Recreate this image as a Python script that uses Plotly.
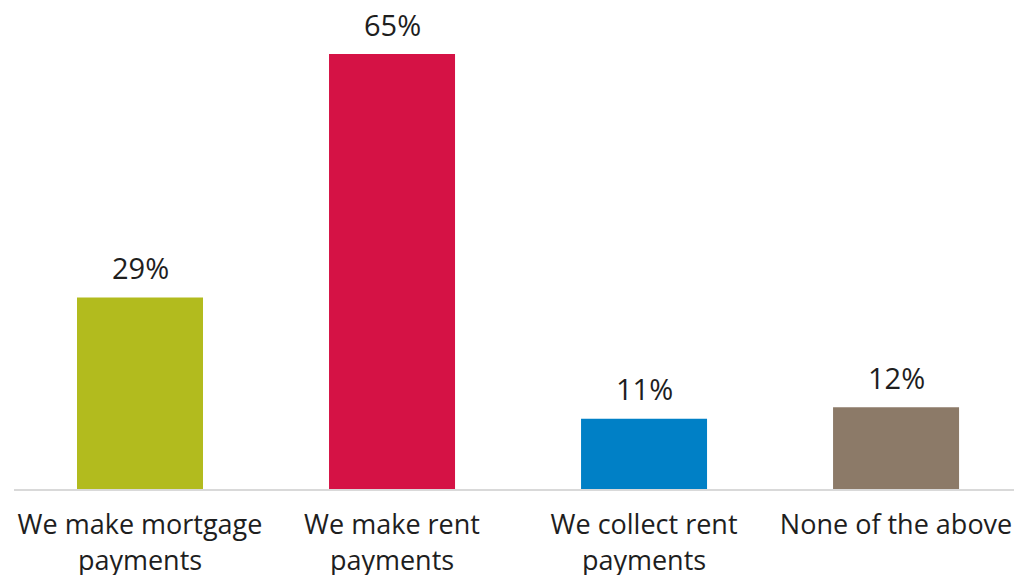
import plotly.graph_objects as go

categories = ["We make mortgage<br>payments", "We make rent<br>payments",
              "We collect rent<br>payments", "None of the above"]
values = [28.6, 65.0, 10.5, 12.2]
labels = ["29%", "65%", "11%", "12%"]
colors = ["#B2BB1E", "#D51245", "#0080C6", "#8C7A68"]

FONT = "Open Sans"
TXT = "#1e1e1e"

fig = go.Figure()
fig.add_trace(go.Bar(
    x=list(range(len(categories))), y=values,
    marker=dict(color=colors, line=dict(width=0)),
    width=0.5, hoverinfo="skip",
))
for i, (v, lab) in enumerate(zip(values, labels)):
    fig.add_annotation(x=i, y=v, text=lab, showarrow=False,
                       yanchor="middle", yshift=30,
                       font=dict(family=FONT, size=29, color=TXT))

fig.update_layout(
    width=1014, height=575,
    margin=dict(l=14, r=0, t=54, b=86),
    paper_bgcolor="white", plot_bgcolor="white",
    showlegend=False,
    font=dict(family=FONT, size=27, color=TXT),
    xaxis=dict(
        tickmode="array", tickvals=list(range(len(categories))),
        ticktext=categories, range=[-0.5, 3.468],
        showgrid=False, zeroline=False, automargin=False,
        showline=True, linecolor="#d9d9d9", linewidth=2,
        ticks="", ticklabelstandoff=11,
        tickfont=dict(family=FONT, size=27, color=TXT),
    ),
    yaxis=dict(range=[0, 65], visible=False, showgrid=False, zeroline=False),
)

fig.write_html("out.html", config={"displayModeBar": False},
               post_script="document.body.style.margin='0';document.body.style.overflow='hidden';")
